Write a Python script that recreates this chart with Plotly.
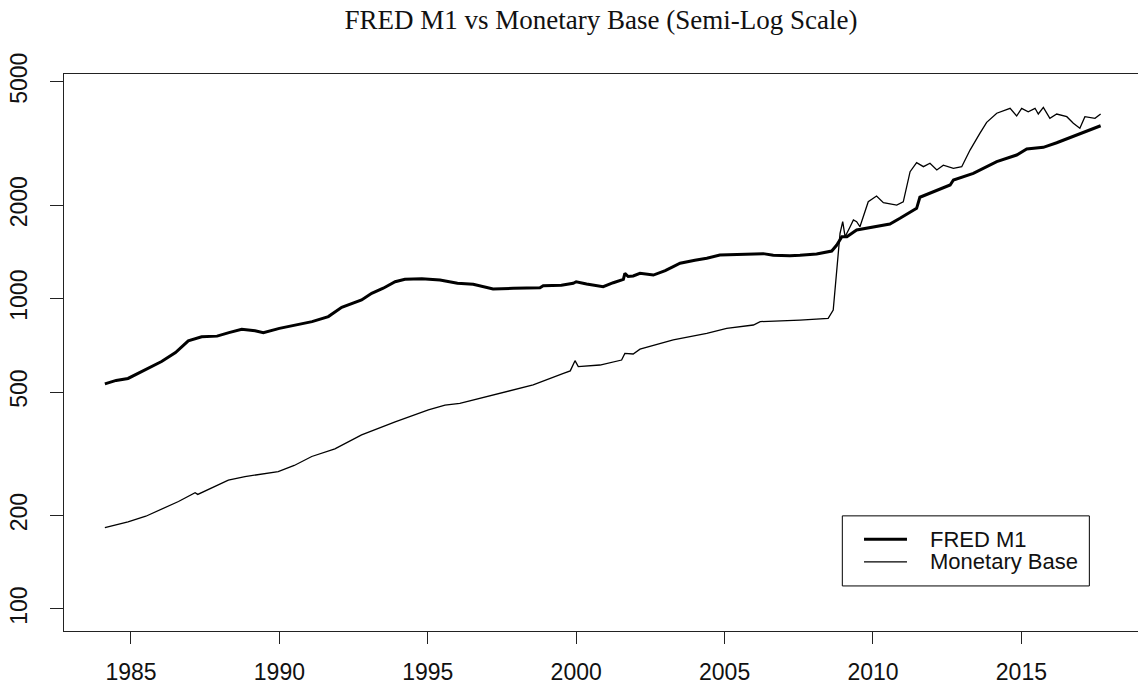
import plotly.graph_objects as go

# ---- data ----
m1_years = [1984.12, 1984.5, 1984.9, 1985.5, 1986.03, 1986.5, 1986.93, 1987.38, 1987.9, 1988.3,
            1988.73, 1989.18, 1989.46, 1990.0, 1990.53, 1991.1, 1991.65, 1992.1, 1992.77, 1993.11,
            1993.5, 1993.9, 1994.23, 1994.8, 1995.41, 1995.75, 1996.0, 1996.53, 1997.2, 1997.88,
            1998.78, 1998.89, 1999.5, 1999.9, 2000.0, 2000.35, 2000.91, 2001.25, 2001.59, 2001.64,
            2001.75, 2001.92, 2002.15, 2002.6, 2003.0, 2003.27, 2003.5, 2004.0, 2004.4, 2004.84,
            2005.52, 2006.3, 2006.64, 2007.2, 2007.54, 2008.1, 2008.61, 2008.78, 2008.95, 2009.12,
            2009.45, 2010.01, 2010.57, 2010.91, 2011.47, 2011.58, 2012.03, 2012.6, 2012.71, 2013.38,
            2014.17, 2014.84, 2015.18, 2015.74, 2016.19, 2016.97, 2017.67]
m1_values = [531, 545, 553, 590, 627, 670, 731, 753, 757, 777,
             796, 788, 777, 802, 822, 843, 875, 938, 990, 1040,
             1080, 1133, 1155, 1158, 1148, 1133, 1120, 1112, 1074, 1079,
             1084, 1100, 1105, 1120, 1133, 1114, 1092, 1125, 1153, 1206,
             1178, 1183, 1206, 1191, 1230, 1267, 1300, 1330, 1349, 1381,
             1385, 1396, 1379, 1374, 1379, 1392, 1423, 1488, 1583, 1583,
             1663, 1704, 1739, 1814, 1954, 2121, 2211, 2323, 2411, 2533,
             2761, 2901, 3034, 3072, 3178, 3406, 3605]

base_years = [1984.12, 1984.9, 1985.5, 1986.03, 1986.6, 1987.16, 1987.25, 1988.28, 1988.84, 1989.96,
              1990.5, 1991.09, 1991.87, 1992.77, 1993.9, 1995.02, 1995.58, 1996.08, 1997.1, 1998.55,
              1999.57, 1999.8, 1999.96, 2000.07, 2000.8, 2001.53, 2001.64, 2001.92, 2002.15, 2003.27,
              2004.4, 2005.07, 2005.97, 2006.2, 2007.54, 2008.49, 2008.66, 2008.78, 2008.89, 2008.98,
              2009.06, 2009.23, 2009.34, 2009.45, 2009.56, 2009.84, 2010.12, 2010.35, 2010.8, 2011.02,
              2011.25, 2011.47, 2011.7, 2011.92, 2012.15, 2012.37, 2012.71, 2012.99, 2013.27, 2013.6,
              2013.83, 2014.17, 2014.62, 2014.84, 2015.01, 2015.23, 2015.46, 2015.57, 2015.74, 2015.96,
              2016.19, 2016.53, 2016.75, 2016.97, 2017.14, 2017.48, 2017.67]
base_values = [183, 191, 199, 209.5, 222, 237, 234, 260, 267, 277,
               290, 310, 328, 364, 401, 438, 454, 460, 486, 527,
               574, 585, 631, 604, 611, 634, 666, 663, 687, 736,
               773, 802, 822, 843, 853, 864, 918, 1267, 1623, 1769,
               1583, 1704, 1792, 1769, 1704, 2051, 2141, 2036, 2002, 2051,
               2564, 2741, 2661, 2730, 2596, 2692, 2628, 2661, 3010, 3406,
               3698, 3955, 4103, 3875, 4103, 4000, 4103, 3933, 4132, 3809,
               3933, 3855, 3671, 3538, 3855, 3809, 3933]

x_ticks = [1985, 1990, 1995, 2000, 2005, 2010, 2015]
y_ticks = [100, 200, 500, 1000, 2000, 5000]
series_names = ["FRED M1", "Monetary Base"]
title_text = "FRED M1 vs Monetary Base (Semi-Log Scale)"

fig = go.Figure()
fig.add_trace(go.Scatter(x=m1_years, y=m1_values, mode="lines", name=series_names[0],
                         line=dict(color="black", width=3), showlegend=False))
fig.add_trace(go.Scatter(x=base_years, y=base_values, mode="lines", name=series_names[1],
                         line=dict(color="black", width=1.3), showlegend=False))

axis_font = dict(family="Liberation Sans, Arial, sans-serif", size=23, color="#111")

fig.update_layout(
    width=1138, height=691,
    margin=dict(l=64, r=0, t=74, b=60),
    paper_bgcolor="white", plot_bgcolor="white",
    title=dict(text=title_text, x=0.5, xref="paper", xanchor="center",
               y=1 - 20 / 691, yref="container", yanchor="middle",
               font=dict(family="Liberation Serif, Times New Roman, serif", size=27, color="#111")),
    xaxis=dict(range=[1982.743, 2018.929], tickvals=x_ticks, ticktext=[str(t) for t in x_ticks],
               showgrid=False, zeroline=False, showline=True, linecolor="#222", linewidth=1,
               mirror=True, ticks="outside", ticklen=12, tickcolor="#222", tickwidth=1,
               tickfont=axis_font, ticklabelstandoff=8),
    yaxis=dict(type="log", range=[1.9291, 3.7236], tickvals=y_ticks, ticktext=[str(t) for t in y_ticks],
               showgrid=False, zeroline=False, showline=True, linecolor="#222", linewidth=1,
               mirror=False, ticks="outside", ticklen=13, tickcolor="#222", tickwidth=1,
               tickangle=-90, tickfont=axis_font, ticklabelstandoff=14),
)

# legend box drawn in paper coordinates
fig.add_shape(type="rect", xref="paper", yref="paper", x0=0.7247, x1=0.9547, y0=0.0809, y1=0.2067,
              line=dict(color="black", width=1), fillcolor="white", layer="above")
fig.add_shape(type="line", xref="paper", yref="paper", x0=0.7449, x1=0.7849, y0=0.1648, y1=0.1648,
              line=dict(color="black", width=3))
fig.add_shape(type="line", xref="paper", yref="paper", x0=0.7449, x1=0.7849, y0=0.1240, y1=0.1240,
              line=dict(color="black", width=1.3))
for name, yy in zip(series_names, [0.1648, 0.1240]):
    fig.add_annotation(text=name, xref="paper", yref="paper", x=0.8042, y=yy,
                       xanchor="left", yanchor="middle", showarrow=False,
                       font=dict(family="Liberation Sans, Arial, sans-serif", size=22, color="#111"))

fig.write_html("out.html", config={"displayModeBar": False},
               post_script="document.body.style.margin='0';")
